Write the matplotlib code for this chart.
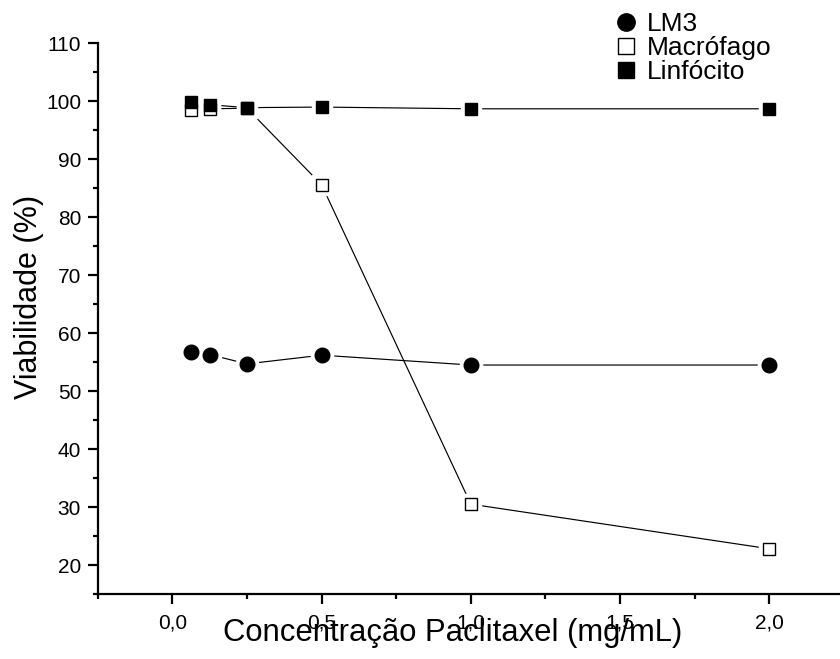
import matplotlib
matplotlib.use("Agg")
import matplotlib.pyplot as plt
from matplotlib.lines import Line2D

plt.rcParams['font.family'] = ['Liberation Sans', 'DejaVu Sans']

# Paclitaxel concentration (mg/mL)
conc = [0.0625, 0.125, 0.25, 0.5, 1.0, 2.0]

# Cell viability (%) per cell type
lm3 = [56.8, 56.3, 54.7, 56.2, 54.5, 54.5]
macrofago = [98.5, 98.7, 98.8, 85.6, 30.5, 22.8]
linfocito = [99.8, 99.4, 98.9, 99.0, 98.7, 98.7]

labels = ["LM3", "Macrófago", "Linfócito"]
xticks = [0.0, 0.5, 1.0, 1.5, 2.0]
xticklabels = ["0,0", "0,5", "1,0", "1,5", "2,0"]
yticks = [20, 30, 40, 50, 60, 70, 80, 90, 100, 110]

W, H = 840, 659
fig = plt.figure(figsize=(W / 100, H / 100), dpi=100)
ax = fig.add_axes([97.7 / W, (H - 594) / H, (844 - 97.7) / W, (594 - 43.3) / H])

series = [
    (lm3, 'o', 10.5, 'black'),
    (macrofago, 's', 9.0, 'white'),
    (linfocito, 's', 9.0, 'black'),
]

gap = 5.5  # white halo around markers so connecting lines stop short
for vals, mk, ms, fc in series:
    ax.plot(conc, vals, '-', color='black', lw=0.85, zorder=1)
    ax.plot(conc, vals, linestyle='none', marker=mk, ms=ms + gap,
            mfc='white', mec='white', zorder=2)
for vals, mk, ms, fc in series:
    ax.plot(conc, vals, linestyle='none', marker=mk, ms=ms,
            mfc=fc, mec='black', mew=1.0, zorder=3)

ax.set_xlim(-0.25, 2.25)
ax.set_ylim(15, 110)
ax.set_xticks(xticks)
ax.set_xticklabels(xticklabels)
ax.set_xticks([-0.25, 0.25, 0.75, 1.25, 1.75, 2.25], minor=True)
ax.set_yticks(yticks)
ax.set_yticks([15, 25, 35, 45, 55, 65, 75, 85, 95, 105], minor=True)

for s in ['top', 'right']:
    ax.spines[s].set_visible(False)
for s in ['left', 'bottom']:
    ax.spines[s].set_linewidth(1.6)

ax.tick_params(which='major', direction='out', length=7, width=1.6,
               labelsize=15, colors='black')
ax.tick_params(axis='x', which='major', pad=7)
ax.tick_params(axis='y', which='major', pad=5)
ax.tick_params(which='minor', direction='out', length=3.5, width=1.6)

fig.text(453 / W, 1 - 641 / H, "Concentração Paclitaxel (mg/mL)",
         fontsize=22.3, ha='center', va='baseline')
fig.text(29 / W, 1 - 297 / H, "Viabilidade (%)", fontsize=22,
         rotation=90, ha='center', va='center')

handles = [
    Line2D([], [], linestyle='none', marker='o', ms=12.5, mfc='black', mec='black'),
    Line2D([], [], linestyle='none', marker='s', ms=11, mfc='white', mec='black'),
    Line2D([], [], linestyle='none', marker='s', ms=11, mfc='black', mec='black'),
]
ax.legend(handles, labels, loc='upper left', frameon=False, fontsize=19,
          bbox_to_anchor=(613 / W, 1 - 12 / H), bbox_transform=fig.transFigure,
          borderpad=0, borderaxespad=0, labelspacing=0.0, handlelength=1.0,
          handletextpad=0.3)

fig.savefig("out.png", dpi=100)
